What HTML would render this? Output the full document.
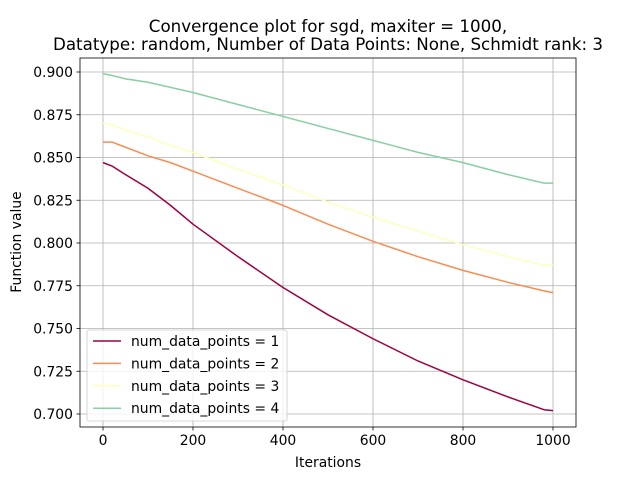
<!DOCTYPE html>
<html><head><meta charset="utf-8"><style>
body{margin:0;background:#fff}
svg text{font-family:"DejaVu Sans","Liberation Sans",sans-serif;fill:#000}
</style></head><body>
<svg id="chart" width="640" height="480" viewBox="0 0 640 480" xmlns="http://www.w3.org/2000/svg">
<rect width="640" height="480" fill="#fff"/>
<text x="328" y="32" font-size="16.7" text-anchor="middle">Convergence plot for sgd, maxiter = 1000,</text>
<text x="328" y="50" font-size="16.7" text-anchor="middle">Datatype: random, Number of Data Points: None, Schmidt rank: 3</text>
<g id="grid"></g><g id="ticks"></g><g id="series"></g>
<rect x="80" y="58" width="496" height="369" fill="none" stroke="#000" stroke-width="0.8"/>
<text x="328" y="467" font-size="13.9" text-anchor="middle">Iterations</text>
<text transform="translate(21,242) rotate(-90)" font-size="13.9" text-anchor="middle">Function value</text>
<g id="legend"></g>
</svg>
<script>
const xTicks=[0,200,400,600,800,1000];
const yTicks=[0.700,0.725,0.750,0.775,0.800,0.825,0.850,0.875,0.900];
const iters=[0,20,50,100,150,200,300,400,500,600,700,800,900,980,1000];
const s1=[0.847,0.845,0.840,0.832,0.822,0.811,0.792,0.774,0.758,0.744,0.731,0.720,0.710,0.7025,0.702];
const s2=[0.859,0.859,0.856,0.851,0.847,0.842,0.832,0.822,0.811,0.801,0.792,0.784,0.777,0.772,0.771];
const s3=[0.870,0.869,0.866,0.862,0.857,0.853,0.843,0.834,0.824,0.815,0.807,0.799,0.792,0.787,0.787];
const s4=[0.899,0.898,0.896,0.894,0.891,0.888,0.881,0.874,0.867,0.860,0.853,0.847,0.840,0.835,0.835];
const labels=["num_data_points = 1","num_data_points = 2","num_data_points = 3","num_data_points = 4"];
const colors=["#9e0142","#f88d51","#ffffbe","#88cfa4"];
const NS="http://www.w3.org/2000/svg";
const xs=v=>103+(v-0)*(553-103)/1000;
const ys=v=>414+(v-0.7)*(72-414)/0.2;
function mk(t,a,p){const e=document.createElementNS(NS,t);for(const k in a)e.setAttribute(k,a[k]);p.appendChild(e);return e;}
const grid=document.getElementById('grid'),ticks=document.getElementById('ticks'),ser=document.getElementById('series'),leg=document.getElementById('legend');
xTicks.forEach(v=>{const x=xs(v);
const g=mk('line',{x1:x,x2:x,y1:58,y2:427,stroke:'#b0b0b0','stroke-width':0.8},grid);

mk('line',{x1:x,x2:x,y1:427,y2:430.5,stroke:'#000','stroke-width':0.8},ticks);
const t=mk('text',{x:x,y:445,'font-size':13.9,'text-anchor':'middle'},ticks);t.textContent=v;
});
yTicks.forEach(v=>{const y=ys(v);
const g=mk('line',{x1:80,x2:576,y1:y,y2:y,stroke:'#b0b0b0','stroke-width':0.8},grid);

mk('line',{x1:76.5,x2:80,y1:y,y2:y,stroke:'#000','stroke-width':0.8},ticks);
const t=mk('text',{x:73,y:y+5,'font-size':13.9,'text-anchor':'end'},ticks);t.textContent=v.toFixed(3);
});
[s1,s2,s3,s4].forEach((s,i)=>{
const p=mk('polyline',{points:iters.map((v,j)=>xs(v)+','+ys(s[j])).join(' '),fill:'none',stroke:colors[i],'stroke-width':1.5,'stroke-linejoin':'round'},ser);
});
const box=mk('rect',{x:87,y:330,width:200,height:91,rx:2,fill:'#fff','fill-opacity':0.8,stroke:'#ccc','stroke-width':0.8},leg);

labels.forEach((l,i)=>{const y=341+i*22.4;
const ln=mk('line',{x1:93,x2:121,y1:y,y2:y,stroke:colors[i],'stroke-width':1.5},leg);

const t=mk('text',{x:131,y:y+5,'font-size':13.9},leg);t.textContent=l;
});
</script>
</body></html>
